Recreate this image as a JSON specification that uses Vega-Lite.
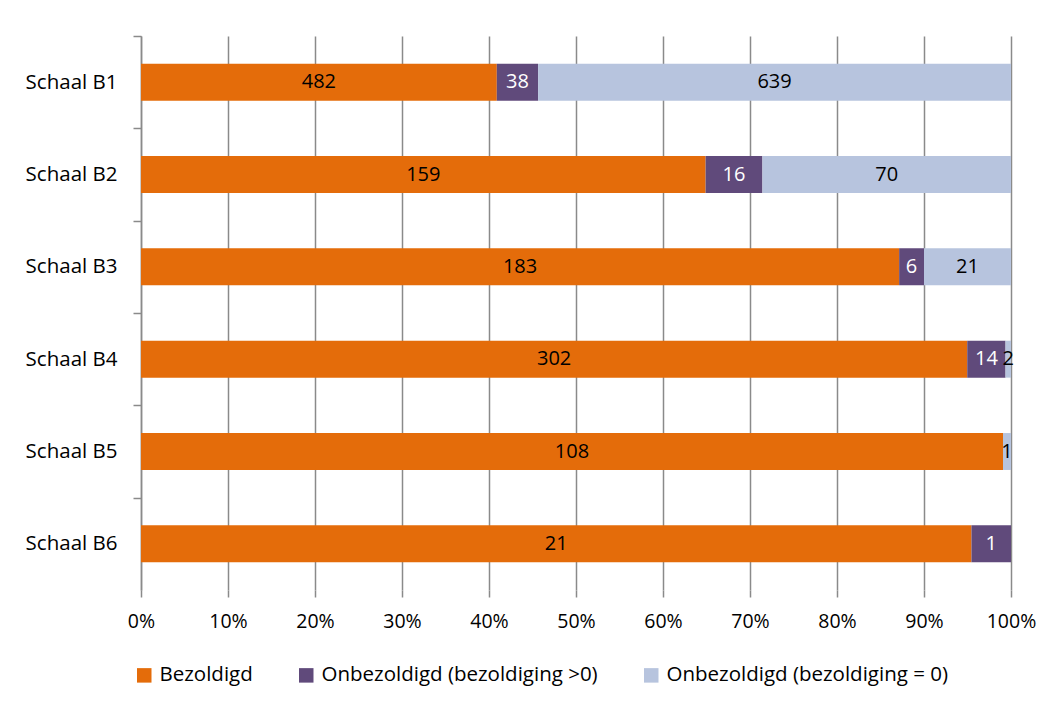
{
  "$schema": "https://vega.github.io/schema/vega-lite/v6.json",
  "width": 870,
  "height": 554,
  "autosize": {"type": "none"},
  "padding": {"left": 141, "top": 36, "right": 48, "bottom": 119},
  "background": "white",
  "config": {
    "font": "Open Sans",
    "view": {"stroke": null},
    "axis": {"labelFont": "Open Sans", "labelColor": "#000000", "labelFontSize": 19.5}
  },
  "data": {
    "values": [
      {"cat": "Schaal B1", "series": "Bezoldigd", "ord": 1, "value": 482, "len": 474},
      {"cat": "Schaal B1", "series": "Onbezoldigd (bezoldiging >0)", "ord": 2, "value": 38, "len": 55},
      {"cat": "Schaal B1", "series": "Onbezoldigd (bezoldiging = 0)", "ord": 3, "value": 639, "len": 630},
      {"cat": "Schaal B2", "series": "Bezoldigd", "ord": 1, "value": 159, "len": 159},
      {"cat": "Schaal B2", "series": "Onbezoldigd (bezoldiging >0)", "ord": 2, "value": 16, "len": 16},
      {"cat": "Schaal B2", "series": "Onbezoldigd (bezoldiging = 0)", "ord": 3, "value": 70, "len": 70},
      {"cat": "Schaal B3", "series": "Bezoldigd", "ord": 1, "value": 183, "len": 183},
      {"cat": "Schaal B3", "series": "Onbezoldigd (bezoldiging >0)", "ord": 2, "value": 6, "len": 6},
      {"cat": "Schaal B3", "series": "Onbezoldigd (bezoldiging = 0)", "ord": 3, "value": 21, "len": 21},
      {"cat": "Schaal B4", "series": "Bezoldigd", "ord": 1, "value": 302, "len": 302},
      {"cat": "Schaal B4", "series": "Onbezoldigd (bezoldiging >0)", "ord": 2, "value": 14, "len": 14},
      {"cat": "Schaal B4", "series": "Onbezoldigd (bezoldiging = 0)", "ord": 3, "value": 2, "len": 2},
      {"cat": "Schaal B5", "series": "Bezoldigd", "ord": 1, "value": 108, "len": 108},
      {"cat": "Schaal B5", "series": "Onbezoldigd (bezoldiging >0)", "ord": 2, "value": 0, "len": 0},
      {"cat": "Schaal B5", "series": "Onbezoldigd (bezoldiging = 0)", "ord": 3, "value": 1, "len": 1},
      {"cat": "Schaal B6", "series": "Bezoldigd", "ord": 1, "value": 21, "len": 21},
      {"cat": "Schaal B6", "series": "Onbezoldigd (bezoldiging >0)", "ord": 2, "value": 1, "len": 1},
      {"cat": "Schaal B6", "series": "Onbezoldigd (bezoldiging = 0)", "ord": 3, "value": 0, "len": 0}
    ]
  },
  "transform": [
    {"stack": "len", "groupby": ["cat"], "sort": [{"field": "ord", "order": "ascending"}], "offset": "normalize", "as": ["x0", "x1"]},
    {"calculate": "(datum.x0 + datum.x1) / 2", "as": "xm"}
  ],
  "encoding": {
    "y": {
      "field": "cat",
      "type": "nominal",
      "sort": ["Schaal B1", "Schaal B2", "Schaal B3", "Schaal B4", "Schaal B5", "Schaal B6"],
      "scale": {"paddingInner": 0.6, "paddingOuter": 0.3},
      "axis": {
        "title": null,
        "ticks": true,
        "tickSize": 8,
        "tickColor": "#8a8a8a",
        "tickWidth": 1.5,
        "tickOffset": -46.17,
        "labelOffset": 46.17,
        "labelFontSize": 20.5,
        "domain": true,
        "domainColor": "#8a8a8a",
        "domainWidth": 1.5,
        "labelPadding": 16,
        "grid": false
      }
    }
  },
  "layer": [
    {
      "mark": {"type": "bar"},
      "encoding": {
        "x": {
          "field": "x0",
          "type": "quantitative",
          "scale": {"domain": [0, 1], "nice": false},
          "axis": {
            "title": null,
            "format": ".0%",
            "values": [0, 0.1, 0.2, 0.3, 0.4, 0.5, 0.6, 0.7, 0.8, 0.9, 1],
            "labelFlush": false,
            "labelOverlap": false,
            "grid": true,
            "gridColor": "#8a8a8a",
            "gridWidth": 1.5,
            "domain": false,
            "ticks": true,
            "tickSize": 7,
            "tickColor": "#8a8a8a",
            "tickWidth": 1.5,
            "labelPadding": 15
          }
        },
        "x2": {"field": "x1"},
        "color": {
          "field": "series",
          "type": "nominal",
          "scale": {
            "domain": ["Bezoldigd", "Onbezoldigd (bezoldiging >0)", "Onbezoldigd (bezoldiging = 0)"],
            "range": ["#E46C0A", "#604A7B", "#B7C4DE"]
          },
          "legend": {
            "title": null,
            "orient": "none",
            "direction": "horizontal",
            "legendX": -7,
            "legendY": 629,
            "symbolType": "square",
            "symbolSize": 210,
            "symbolStrokeWidth": 0,
            "labelFontSize": 20.5,
            "labelFont": "Open Sans",
            "labelColor": "#000000",
            "labelOffset": 5,
            "labelLimit": 0,
            "columnPadding": 43
          }
        }
      }
    },
    {
      "transform": [{"filter": "datum.value > 0"}],
      "mark": {"type": "text", "fontSize": 20, "font": "Open Sans", "baseline": "middle", "align": "center"},
      "encoding": {
        "x": {"field": "xm", "type": "quantitative"},
        "text": {"field": "value", "type": "quantitative"},
        "color": {
          "condition": {"test": "datum.series === 'Onbezoldigd (bezoldiging >0)'", "value": "#ffffff"},
          "value": "#000000"
        }
      }
    }
  ]
}
